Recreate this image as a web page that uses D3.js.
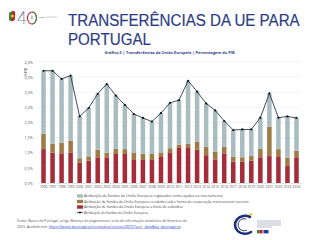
<!DOCTYPE html>
<html><head><meta charset="utf-8">
<script src="https://cdn.jsdelivr.net/npm/d3@7"></script>
<style>html,body{margin:0;padding:0;background:#fff;}svg{display:block;}</style>
</head><body>
<script>
const years = ["1996","1997","1998","1999","2000","2001","2002","2003","2004","2005","2006","2007","2008","2009","2010","2011","2012","2013","2014","2015","2016","2017","2018","2019","2020","2021","2022","2023","2024"];
const subsidios = [1.12,1.00,0.98,1.01,0.67,0.74,0.85,0.85,0.96,0.96,0.76,0.76,0.76,0.86,0.99,1.18,1.18,1.10,0.92,0.78,0.98,0.70,0.70,0.74,0.85,0.89,0.86,0.56,0.85];
const cooperacao = [0.51,0.30,0.35,0.39,0.15,0.14,0.25,0.15,0.17,0.16,0.23,0.21,0.20,0.15,0.16,0.09,0.12,0.27,0.28,0.25,0.22,0.17,0.15,0.15,0.28,0.97,0.26,0.28,0.22];
const investimento = [2.08,2.41,2.11,2.15,1.38,1.60,1.85,2.27,1.76,1.46,1.29,1.18,1.07,1.30,1.50,1.47,2.08,1.65,1.43,1.37,0.85,0.88,0.92,0.88,1.03,1.10,1.04,1.36,1.08];
const total = [3.71,3.71,3.44,3.55,2.20,2.48,2.95,3.27,2.89,2.58,2.28,2.15,2.03,2.31,2.65,2.74,3.38,3.02,2.63,2.40,2.05,1.75,1.77,1.77,2.16,2.96,2.16,2.20,2.15];
const yTicks = [0,0.5,1,1.5,2,2.5,3,3.5,4];
const legendLabels = [
 "Atribuição de fundos da União Europeia registados como ajudas ao investimento",
 "Atribuição de fundos da União Europeia recebidos sob a forma de cooperação internacional corrente",
 "Atribuição de fundos da União Europeia a título de subsídios",
 "Atribuição de fundos da União Europeia"
];
const colors = {red:"#a52d3a", gold:"#9e7a47", grey:"#a9bdc1", line:"#2c3a48"};
const font = "'Open Sans', sans-serif";
const blue = "#2d3d86";

const svg = d3.select("body").append("svg").attr("width",320).attr("height",240);

// logo top-left
const lg = svg.append("g");
lg.append("path").attr("d","M9,13 Q12,10 15,12 L15,19 Q12,23 9,20 Z").attr("fill","#3a8a3a");
lg.append("path").attr("d","M12,11.5 Q14,10.5 15,12 L15,19 Q13.5,21.5 11.5,21 Z").attr("fill","#c8202a");
lg.append("circle").attr("cx",12.5).attr("cy",16).attr("r",1.6).attr("fill","#e8c32a");
lg.append("text").attr("x",17).attr("y",24).attr("font-family","Lato, sans-serif").attr("font-size",17).attr("font-weight",300).attr("fill","#6f7f9a").text("4");
lg.append("ellipse").attr("cx",32).attr("cy",18).attr("rx",4.5).attr("ry",6).attr("fill","none").attr("stroke","#c8202a").attr("stroke-width",1.1);
lg.append("path").attr("d","M32,12 A4.5,6 0 0 1 32,24").attr("fill","none").attr("stroke","#3a8a3a").attr("stroke-width",1.1);
lg.append("rect").attr("x",31.5).attr("y",15.5).attr("width",0.9).attr("height",4).attr("fill","#6f7f9a");
lg.append("line").attr("x1",39).attr("x2",45).attr("y1",17.5).attr("y2",17.5).attr("stroke","#8a94a8").attr("stroke-width",0.6);
lg.append("line").attr("x1",46).attr("x2",57).attr("y1",17).attr("y2",17).attr("stroke","#b8bfcc").attr("stroke-width",0.8);

// title: horizontally scaled to fit the reference widths
const tfont = "'Liberation Sans', Arial, sans-serif";
function titleLine(txt, bx, by, target){
  const t = svg.append("text").attr("x",0).attr("y",0).attr("font-family",tfont).attr("font-size",17)
    .attr("fill",blue).attr("stroke",blue).attr("stroke-width",0.2).text(txt);
  const w = t.node().getComputedTextLength();
  t.attr("transform",`translate(${bx},${by}) scale(${target/w},1)`);
}
titleLine("TRANSFERÊNCIAS DA UE PARA",68,25.5,232);
titleLine("PORTUGAL",68,45,83);
svg.append("text").attr("x",169.5).attr("y",54).attr("text-anchor","middle").attr("font-family",font).attr("font-size",4).attr("font-weight",700).attr("fill",blue)
  .attr("textLength",130).attr("lengthAdjust","spacingAndGlyphs").text("Gráfico 5 | Transferências da União Europeia | Percentagem do PIB");

// scales
const x = d3.scaleBand().domain(years).range([39,301]).paddingInner(0.5).paddingOuter(0.25);
const y = d3.scaleLinear().domain([0,4]).range([183,62]);

// grid
const grid = svg.append("g");
grid.selectAll("line").data(yTicks).join("line")
  .attr("x1",37).attr("x2",300).attr("y1",d=>y(d)).attr("y2",d=>y(d))
  .attr("stroke","#e6e6e6").attr("stroke-width",0.5);

// y axis
const yAxis = d3.axisLeft(y).tickValues(yTicks).tickSize(0).tickPadding(0)
  .tickFormat(d=>d3.format(".1f")(d).replace(".",",")+"%");
const ya = svg.append("g").attr("transform","translate(33,0)").call(yAxis);
ya.select(".domain").remove();
ya.selectAll("text").attr("font-family",font).attr("font-size",3.8).attr("fill","#555");
svg.append("text").attr("transform","translate(27,72) rotate(-90)").attr("text-anchor","middle")
  .attr("font-family",font).attr("font-size",3.6).attr("fill","#555").text("%PIB");

// stacked bars
const rows = years.map((yr,i)=>({year:yr, red:subsidios[i], gold:cooperacao[i], grey:investimento[i]}));
const stack = d3.stack().keys(["red","gold","grey"])(rows);
svg.append("g").selectAll("g").data(stack).join("g").attr("fill",d=>colors[d.key])
  .selectAll("rect").data(d=>d).join("rect")
  .attr("x",d=>x(d.data.year)).attr("width",x.bandwidth())
  .attr("y",d=>y(d[1])).attr("height",d=>y(d[0])-y(d[1]));

// x axis
const xAxis = d3.axisBottom(x).tickSize(0).tickPadding(2.5);
const xa = svg.append("g").attr("transform","translate(0,183)").call(xAxis);
xa.select(".domain").attr("stroke","#ccc").attr("stroke-width",0.5);
xa.selectAll("text").attr("font-family",font).attr("font-size",3.4).attr("fill","#555");

// total line
const lineGen = d3.line().x((d,i)=>x(years[i])+x.bandwidth()/2).y(d=>y(d));
svg.append("path").datum(total).attr("d",lineGen).attr("fill","none").attr("stroke",colors.line).attr("stroke-width",0.9);
svg.append("g").selectAll("circle").data(total).join("circle")
  .attr("cx",(d,i)=>x(years[i])+x.bandwidth()/2).attr("cy",d=>y(d)).attr("r",1.1).attr("fill","#111");

// legend
const legY = [196,201.5,207,212.5];
const legKeys = ["grey","gold","red","line"];
const legW = [139,165,99,64];
const leg = svg.append("g");
legKeys.forEach((k,i)=>{
  if(k==="line"){
    leg.append("line").attr("x1",77).attr("x2",83).attr("y1",legY[i]).attr("y2",legY[i]).attr("stroke",colors.line).attr("stroke-width",0.8);
    leg.append("circle").attr("cx",80).attr("cy",legY[i]).attr("r",1).attr("fill","#111");
  } else {
    leg.append("rect").attr("x",77).attr("y",legY[i]-1.7).attr("width",6).attr("height",3.4).attr("fill",colors[k]);
  }
  leg.append("text").attr("x",84).attr("y",legY[i]+1.3).attr("font-family",font).attr("font-size",3.7).attr("fill","#444")
    .attr("textLength",legW[i]).attr("lengthAdjust","spacingAndGlyphs").text(legendLabels[i]);
});

// source
svg.append("text").attr("x",17).attr("y",222).attr("font-family",font).attr("font-size",3.6).attr("fill","#555")
  .attr("textLength",170).attr("lengthAdjust","spacingAndGlyphs")
  .text("Fonte: Banco de Portugal, artigo Balança de pagamentos: nota de informação estatística de fevereiro de");
const src2 = svg.append("text").attr("x",17).attr("y",227.5).attr("font-family",font).attr("font-size",3.6).attr("fill","#555");
src2.append("tspan").text("2025. Acedido em: ");
src2.append("tspan").attr("fill","#2a4bd0").attr("text-decoration","underline").attr("textLength",132).attr("lengthAdjust","spacingAndGlyphs").text("https://bpstat.bportugal.pt/conteudos/noticias/2870/?sort=-data&bp=bportugal.pt");

// bottom-right logo
const br = svg.append("g");
br.append("path").attr("d","M250,217 A10,9 0 1 0 251,232").attr("fill","none").attr("stroke","#1d2f7a").attr("stroke-width",2.6).attr("stroke-linecap","round");
br.append("path").attr("d","M246,219 A6,6 0 1 0 247,230").attr("fill","none").attr("stroke","#1d2f7a").attr("stroke-width",1);
br.append("circle").attr("cx",251).attr("cy",214.5).attr("r",1.3).attr("fill","#e8c32a");
[221,223,225,227].forEach((yy,i)=>br.append("line").attr("x1",257).attr("x2",i<3?281:272).attr("y1",yy).attr("y2",yy).attr("stroke","#8a92a6").attr("stroke-width",0.6));
br.append("rect").attr("x",257).attr("y",230).attr("width",2.4).attr("height",3.4).attr("fill","#2e8a3a");
br.append("rect").attr("x",259.4).attr("y",230).attr("width",3.2).attr("height",3.4).attr("fill","#c8202a");
br.append("rect").attr("x",263.5).attr("y",230).attr("width",5).attr("height",3.4).attr("fill","#1f3fa0");
</script>
</body></html>
